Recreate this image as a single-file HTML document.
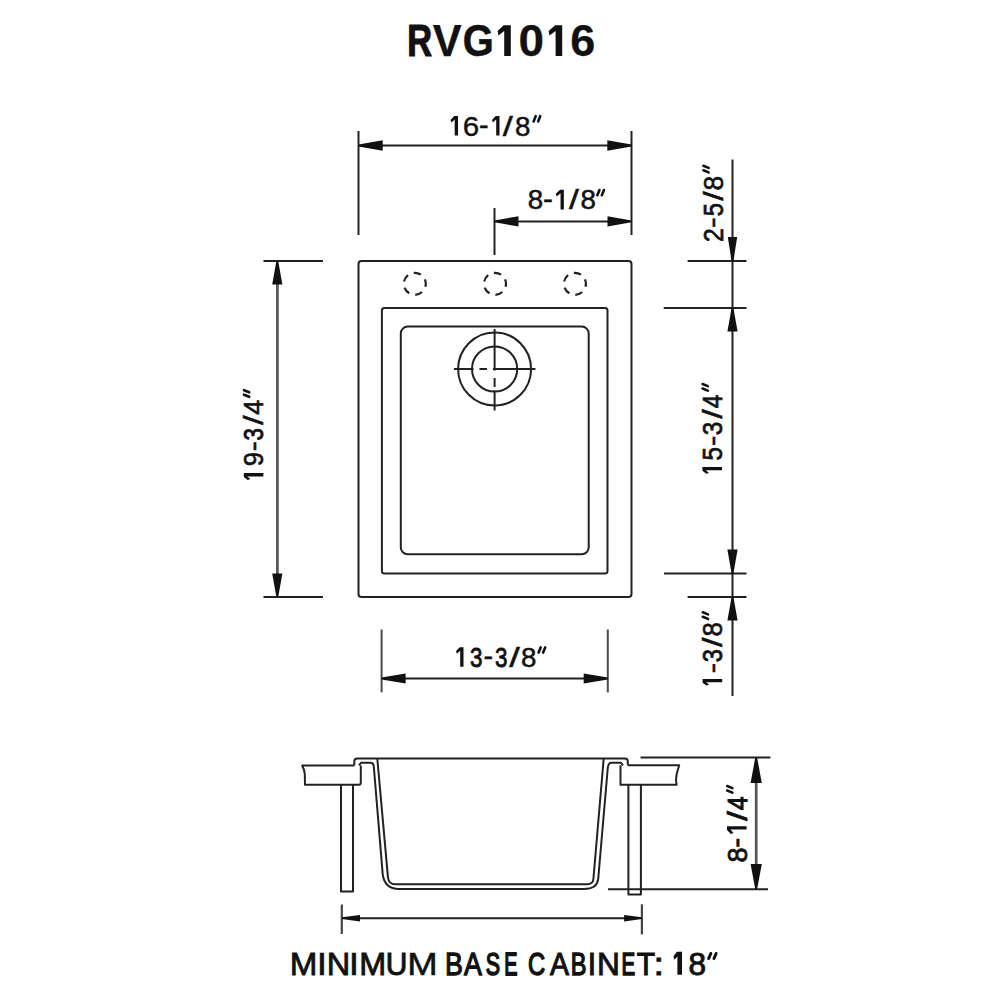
<!DOCTYPE html>
<html><head><meta charset="utf-8">
<style>
html,body{margin:0;padding:0;background:#fff;}
svg{display:block;}
text{font-family:"Liberation Sans",sans-serif;fill:#111;}
</style></head>
<body>
<svg width="1000" height="1000" viewBox="0 0 1000 1000">
<rect x="0" y="0" width="1000" height="1000" fill="#fff"/>
<g fill="none" stroke="#222" stroke-width="2" stroke-linejoin="round">
  <!-- 16-1/8 dimension -->
  <line x1="358.5" y1="131" x2="358.5" y2="235"/>
  <line x1="631.5" y1="131" x2="631.5" y2="235"/>
  <line x1="370" y1="145.5" x2="620" y2="145.5"/>
  <!-- 8-1/8 dimension -->
  <line x1="494.5" y1="208" x2="494.5" y2="255"/>
  <line x1="505" y1="221.4" x2="620" y2="221.4"/>

  <!-- plan view -->
  <rect x="358.5" y="261" width="273" height="336" rx="3"/>
  <rect x="381.9" y="308" width="225.6" height="265.5" rx="2.5"/>
  <rect x="400.8" y="326.6" width="187.9" height="227.7" rx="7"/>

  <!-- faucet holes -->
  <g stroke-dasharray="11 9" stroke-dashoffset="6.6" stroke-width="2.2">
    <circle cx="414.8" cy="283.8" r="11" pathLength="100"/>
    <circle cx="495" cy="283.8" r="11" pathLength="100"/>
    <circle cx="574.9" cy="283.8" r="11" pathLength="100"/>
  </g>

  <!-- drain -->
  <circle cx="494.6" cy="369" r="36.5"/>
  <circle cx="494.6" cy="369" r="22.6"/>
  <line x1="454" y1="369" x2="473.5" y2="369"/>
  <line x1="479.5" y1="369" x2="487" y2="369"/>
  <line x1="493" y1="369" x2="535.5" y2="369"/>
  <line x1="494.6" y1="329" x2="494.6" y2="370.5"/>
  <line x1="494.6" y1="378" x2="494.6" y2="387"/>
  <line x1="494.6" y1="390.5" x2="494.6" y2="410.5"/>

  <!-- left 19-3/4 dimension -->
  <line x1="263.5" y1="261" x2="323" y2="261"/>
  <line x1="263.5" y1="597" x2="323" y2="597"/>
  <line x1="277.4" y1="275" x2="277.4" y2="583" stroke="#5a5a5a" stroke-width="2.8"/>

  <!-- right dims -->
  <line x1="687.6" y1="261" x2="746.5" y2="261"/>
  <line x1="663.7" y1="308" x2="746.5" y2="308"/>
  <line x1="664" y1="573.6" x2="746.5" y2="573.6"/>
  <line x1="687.6" y1="597" x2="746.5" y2="597"/>
  <line x1="732.5" y1="159.6" x2="732.5" y2="696"/>

  <!-- 13-3/8 dimension -->
  <line x1="381.6" y1="629.5" x2="381.6" y2="692.4" stroke="#4a4a4a"/>
  <line x1="607.8" y1="629.5" x2="607.8" y2="692.4" stroke="#4a4a4a"/>
  <line x1="395" y1="678.5" x2="595" y2="678.5"/>

  <!-- side view -->
  <!-- left slab -->
  <path d="M354.3 765.5 H302.2 Q304.5 770 304.8 774.2 L305 784.8 H358.8 Q360.8 784.8 360.8 782.8 V765.5"/>
  <!-- right slab -->
  <path d="M627.8 765.3 H679.2 Q677.4 771 676.5 775 Q675.5 780 676.6 784.8 H620.5 V765.3"/>
  <!-- top lip outer -->
  <path d="M354.3 765.5 V761.5 Q354.3 758.5 357.3 758.5 H624.8 Q627.8 758.5 627.8 761.5 V765.3"/>
  <!-- rim + outer surface -->
  <path d="M359 765.3 L361 762.8 H370.5 Q373.5 762.8 373.8 766.5 L382.7 874.2 Q384.5 889 399 889 H584 Q597 889 598.2 879 L607.6 770 Q608 762.8 611 762.8 H621 L623 765.3"/>
  <!-- inner surface -->
  <path d="M377.3 758.5 L388 877.8 Q389 884.2 395 884.2 H587.4 Q592.8 884.2 593.4 879 L603.7 758.5"/>
  <!-- legs -->
  <path d="M341 784.8 V891.5 H353 V784.8"/>
  <path d="M628.4 785 V894.5 H640.9 V785"/>

  <!-- 8-1/4 dimension -->
  <line x1="640.5" y1="757.4" x2="770.4" y2="757.4"/>
  <line x1="608" y1="889.2" x2="768" y2="889.2"/>
  <line x1="756.2" y1="775" x2="756.2" y2="870" stroke="#555" stroke-width="2.7"/>

  <!-- bottom dim -->
  <line x1="341.8" y1="904.5" x2="341.8" y2="934" stroke="#444" stroke-width="2.2"/>
  <line x1="641.9" y1="904.3" x2="641.9" y2="934.4" stroke="#444" stroke-width="2.2"/>
  <line x1="355" y1="918.2" x2="630" y2="918.2"/>
</g>

<!-- arrowheads -->
<g fill="#111" stroke="none">
  <!-- 16-1/8 -->
  <polygon points="358.50,146.40 382.70,150.70 382.70,140.30 358.50,144.60"/>
  <polygon points="631.50,144.60 607.30,140.30 607.30,150.70 631.50,146.40"/>
  <!-- 8-1/8 -->
  <polygon points="494.50,222.30 518.50,226.60 518.50,216.20 494.50,220.50"/>
  <polygon points="631.50,220.50 607.50,216.20 607.50,226.60 631.50,222.30"/>
  <!-- 19-3/4 -->
  <polygon points="276.40,261.00 272.20,284.60 282.40,284.60 278.20,261.00"/>
  <polygon points="278.20,597.00 282.40,573.40 272.20,573.40 276.40,597.00"/>
  <!-- right -->
  <polygon points="733.40,261.00 737.20,237.00 727.80,237.00 731.60,261.00"/>
  <polygon points="731.60,308.00 727.40,331.50 737.60,331.50 733.40,308.00"/>
  <polygon points="733.40,573.60 737.60,549.60 727.40,549.60 731.60,573.60"/>
  <polygon points="731.60,597.00 727.40,620.50 737.60,620.50 733.40,597.00"/>
  <!-- 13-3/8 -->
  <polygon points="381.50,679.40 405.60,683.60 405.60,673.40 381.50,677.60"/>
  <polygon points="607.80,677.60 583.70,673.40 583.70,683.60 607.80,679.40"/>
  <!-- 8-1/4 -->
  <polygon points="755.30,757.40 750.60,782.90 761.80,782.90 757.10,757.40"/>
  <polygon points="757.10,889.20 761.80,864.00 750.60,864.00 755.30,889.20"/>
  <!-- bottom -->
  <polygon points="341.80,919.10 360.00,921.50 360.00,914.90 341.80,917.30"/>
  <polygon points="641.90,917.30 624.10,914.90 624.10,921.50 641.90,919.10"/>
</g>


<g id="labels">
<g transform="translate(0,56.0)"><text x="407.31" y="0" font-size="44.86" font-weight="bold" stroke="#111" stroke-width="1.21" textLength="24.79" lengthAdjust="spacingAndGlyphs">R</text><text x="432.83" y="0" font-size="44.86" font-weight="bold" stroke="#111" stroke-width="0.25" textLength="28.84" lengthAdjust="spacingAndGlyphs">V</text><text x="462.65" y="0" font-size="44.86" font-weight="bold" stroke="#111" stroke-width="0.57" textLength="31.04" lengthAdjust="spacingAndGlyphs">G</text><polygon fill="#111" points="510.80,0.00 510.80,-30.80 503.70,-30.80 497.60,-25.00 498.50,-20.50 504.20,-25.05 504.20,0.00"/><text x="518.51" y="0" font-size="44.86" font-weight="bold" stroke="#111" stroke-width="0.25" textLength="25.55" lengthAdjust="spacingAndGlyphs">0</text><polygon fill="#111" points="562.20,0.00 562.20,-30.80 555.10,-30.80 548.60,-25.00 549.50,-20.50 555.60,-25.05 555.60,0.00"/><text x="570.18" y="0" font-size="44.86" font-weight="bold" stroke="#111" stroke-width="0.25" textLength="25.02" lengthAdjust="spacingAndGlyphs">6</text></g>
<g transform="translate(0,135.6)"><polygon fill="#111" points="458.00,0.00 458.00,-19.60 454.20,-19.60 450.50,-15.70 451.40,-13.00 454.70,-16.15 454.70,0.00"/><text x="462.67" y="0" font-size="27.5" font-weight="normal" stroke="#111" stroke-width="0.34" textLength="16.46" lengthAdjust="spacingAndGlyphs">6</text><text x="478.98" y="-1.4" font-size="27.5" font-weight="normal" stroke="#111" stroke-width="0.50" textLength="9.55" lengthAdjust="spacingAndGlyphs">-</text><polygon fill="#111" points="499.50,0.00 499.50,-19.60 495.70,-19.60 492.00,-15.70 492.90,-13.00 496.20,-16.15 496.20,0.00"/><text x="502.75" y="0" font-size="27.5" font-weight="normal" stroke="#111" stroke-width="0.50" textLength="10.00" lengthAdjust="spacingAndGlyphs">/</text><text x="515.04" y="0" font-size="27.5" font-weight="normal" stroke="#111" stroke-width="0.48" textLength="15.43" lengthAdjust="spacingAndGlyphs">8</text><path d="M540.20 -19.40L538.10 -14.20M535.70 -19.40L533.60 -14.20" stroke="#111" stroke-width="2.6" stroke-linecap="round" fill="none"/></g>
<g transform="translate(0,209.4)"><text x="527.79" y="0" font-size="27.5" font-weight="normal" stroke="#111" stroke-width="0.48" textLength="15.43" lengthAdjust="spacingAndGlyphs">8</text><text x="542.94" y="-1.4" font-size="27.5" font-weight="normal" stroke="#111" stroke-width="0.50" textLength="9.82" lengthAdjust="spacingAndGlyphs">-</text><polygon fill="#111" points="563.85,0.00 563.85,-19.60 560.05,-19.60 555.75,-15.70 556.65,-13.00 560.55,-16.15 560.55,0.00"/><text x="569.05" y="0" font-size="27.5" font-weight="normal" stroke="#111" stroke-width="0.50" textLength="9.85" lengthAdjust="spacingAndGlyphs">/</text><text x="580.44" y="0" font-size="27.5" font-weight="normal" stroke="#111" stroke-width="0.48" textLength="15.43" lengthAdjust="spacingAndGlyphs">8</text><path d="M603.95 -19.40L601.85 -14.20M599.45 -19.40L597.35 -14.20" stroke="#111" stroke-width="2.6" stroke-linecap="round" fill="none"/></g>
<g transform="translate(0,666.8)"><polygon fill="#111" points="463.50,0.00 463.50,-19.60 459.70,-19.60 456.00,-15.70 456.90,-13.00 460.20,-16.15 460.20,0.00"/><text x="470.09" y="0" font-size="27.5" font-weight="normal" stroke="#111" stroke-width="0.88" textLength="12.46" lengthAdjust="spacingAndGlyphs">3</text><text x="483.48" y="-1.4" font-size="27.5" font-weight="normal" stroke="#111" stroke-width="0.50" textLength="9.55" lengthAdjust="spacingAndGlyphs">-</text><text x="495.09" y="0" font-size="27.5" font-weight="normal" stroke="#111" stroke-width="0.88" textLength="12.46" lengthAdjust="spacingAndGlyphs">3</text><text x="509.25" y="0" font-size="27.5" font-weight="normal" stroke="#111" stroke-width="0.50" textLength="10.50" lengthAdjust="spacingAndGlyphs">/</text><text x="521.04" y="0" font-size="27.5" font-weight="normal" stroke="#111" stroke-width="0.48" textLength="15.43" lengthAdjust="spacingAndGlyphs">8</text><path d="M545.20 -19.40L543.10 -14.20M540.70 -19.40L538.60 -14.20" stroke="#111" stroke-width="2.6" stroke-linecap="round" fill="none"/></g>
<g transform="translate(263.4,0) rotate(-90)"><polygon fill="#111" points="-473.10,0.00 -473.10,-19.60 -476.90,-19.60 -479.90,-15.70 -479.00,-13.00 -476.40,-16.15 -476.40,0.00"/><text x="-466.19" y="0" font-size="27.5" font-weight="normal" stroke="#111" stroke-width="0.64" textLength="14.29" lengthAdjust="spacingAndGlyphs">9</text><text x="-451.28" y="-1.4" font-size="27.5" font-weight="normal" stroke="#111" stroke-width="0.50" textLength="9.96" lengthAdjust="spacingAndGlyphs">-</text><text x="-440.59" y="0" font-size="27.5" font-weight="normal" stroke="#111" stroke-width="0.90" textLength="12.32" lengthAdjust="spacingAndGlyphs">3</text><text x="-424.95" y="0" font-size="27.5" font-weight="normal" stroke="#111" stroke-width="0.50" textLength="9.70" lengthAdjust="spacingAndGlyphs">/</text><text x="-414.74" y="0" font-size="27.5" font-weight="normal" stroke="#111" stroke-width="0.54" textLength="14.96" lengthAdjust="spacingAndGlyphs">4</text><path d="M-390.20 -19.40L-392.30 -14.20M-394.70 -19.40L-396.80 -14.20" stroke="#111" stroke-width="2.6" stroke-linecap="round" fill="none"/></g>
<g transform="translate(722.8,0) rotate(-90)"><text x="-242.07" y="0" font-size="27.5" font-weight="normal" stroke="#111" stroke-width="0.72" textLength="13.65" lengthAdjust="spacingAndGlyphs">2</text><text x="-227.73" y="-1.4" font-size="27.5" font-weight="normal" stroke="#111" stroke-width="0.50" textLength="10.37" lengthAdjust="spacingAndGlyphs">-</text><text x="-216.35" y="0" font-size="27.5" font-weight="normal" stroke="#111" stroke-width="0.79" textLength="13.15" lengthAdjust="spacingAndGlyphs">5</text><text x="-200.75" y="0" font-size="27.5" font-weight="normal" stroke="#111" stroke-width="0.50" textLength="9.40" lengthAdjust="spacingAndGlyphs">/</text><text x="-190.56" y="0" font-size="27.5" font-weight="normal" stroke="#111" stroke-width="0.58" textLength="14.72" lengthAdjust="spacingAndGlyphs">8</text><path d="M-165.80 -19.40L-167.90 -14.20M-170.30 -19.40L-172.40 -14.20" stroke="#111" stroke-width="2.6" stroke-linecap="round" fill="none"/></g>
<g transform="translate(722.0,0) rotate(-90)"><polygon fill="#111" points="-466.90,0.00 -466.90,-19.60 -470.70,-19.60 -473.80,-15.70 -472.90,-13.00 -470.20,-16.15 -470.20,0.00"/><text x="-460.59" y="0" font-size="27.5" font-weight="normal" stroke="#111" stroke-width="0.75" textLength="13.43" lengthAdjust="spacingAndGlyphs">5</text><text x="-446.05" y="-1.4" font-size="27.5" font-weight="normal" stroke="#111" stroke-width="0.50" textLength="10.50" lengthAdjust="spacingAndGlyphs">-</text><text x="-435.36" y="0" font-size="27.5" font-weight="normal" stroke="#111" stroke-width="0.73" textLength="13.57" lengthAdjust="spacingAndGlyphs">3</text><text x="-418.75" y="0" font-size="27.5" font-weight="normal" stroke="#111" stroke-width="0.50" textLength="9.50" lengthAdjust="spacingAndGlyphs">/</text><text x="-408.19" y="0" font-size="27.5" font-weight="normal" stroke="#111" stroke-width="0.74" textLength="13.54" lengthAdjust="spacingAndGlyphs">4</text><path d="M-384.05 -19.40L-386.15 -14.20M-388.55 -19.40L-390.65 -14.20" stroke="#111" stroke-width="2.6" stroke-linecap="round" fill="none"/></g>
<g transform="translate(722.2,0) rotate(-90)"><polygon fill="#111" points="-679.00,0.00 -679.00,-19.60 -682.80,-19.60 -685.50,-15.70 -684.60,-13.00 -682.30,-16.15 -682.30,0.00"/><text x="-673.37" y="-1.4" font-size="27.5" font-weight="normal" stroke="#111" stroke-width="0.50" textLength="10.23" lengthAdjust="spacingAndGlyphs">-</text><text x="-662.26" y="0" font-size="27.5" font-weight="normal" stroke="#111" stroke-width="0.79" textLength="13.15" lengthAdjust="spacingAndGlyphs">3</text><text x="-647.00" y="0" font-size="27.5" font-weight="normal" stroke="#111" stroke-width="0.50" textLength="9.50" lengthAdjust="spacingAndGlyphs">/</text><text x="-636.56" y="0" font-size="27.5" font-weight="normal" stroke="#111" stroke-width="0.62" textLength="14.37" lengthAdjust="spacingAndGlyphs">8</text><path d="M-612.30 -19.40L-614.40 -14.20M-616.80 -19.40L-618.90 -14.20" stroke="#111" stroke-width="2.6" stroke-linecap="round" fill="none"/></g>
<g transform="translate(746.6,0) rotate(-90)"><text x="-862.55" y="0" font-size="27.5" font-weight="normal" stroke="#111" stroke-width="0.84" textLength="15.01" lengthAdjust="spacingAndGlyphs">8</text><text x="-847.49" y="-1.4" font-size="27.5" font-weight="normal" stroke="#111" stroke-width="0.80" textLength="9.68" lengthAdjust="spacingAndGlyphs">-</text><polygon fill="#111" points="-826.20,0.00 -826.20,-19.60 -830.00,-19.60 -833.90,-15.70 -833.00,-13.00 -829.50,-16.15 -829.50,0.00"/><text x="-820.80" y="0" font-size="27.5" font-weight="normal" stroke="#111" stroke-width="0.80" textLength="9.50" lengthAdjust="spacingAndGlyphs">/</text><text x="-810.04" y="0" font-size="27.5" font-weight="normal" stroke="#111" stroke-width="1.04" textLength="13.54" lengthAdjust="spacingAndGlyphs">4</text><path d="M-786.00 -19.40L-788.10 -14.20M-790.50 -19.40L-792.60 -14.20" stroke="#111" stroke-width="2.6" stroke-linecap="round" fill="none"/></g>
<g transform="translate(0,974.8)"><text x="289.66" y="0" font-size="31.6" font-weight="normal" stroke="#111" stroke-width="0.78" textLength="27.67" lengthAdjust="spacingAndGlyphs">M</text><text x="316.84" y="0" font-size="31.6" font-weight="normal" stroke="#111" stroke-width="0.54" textLength="10.31" lengthAdjust="spacingAndGlyphs">I</text><text x="326.75" y="0" font-size="31.6" font-weight="normal" stroke="#111" stroke-width="0.83" textLength="23.49" lengthAdjust="spacingAndGlyphs">N</text><text x="348.84" y="0" font-size="31.6" font-weight="normal" stroke="#111" stroke-width="0.54" textLength="10.31" lengthAdjust="spacingAndGlyphs">I</text><text x="359.27" y="0" font-size="31.6" font-weight="normal" stroke="#111" stroke-width="0.84" textLength="26.97" lengthAdjust="spacingAndGlyphs">M</text><text x="385.71" y="0" font-size="31.6" font-weight="normal" stroke="#111" stroke-width="1.03" textLength="21.58" lengthAdjust="spacingAndGlyphs">U</text><text x="407.26" y="0" font-size="31.6" font-weight="normal" stroke="#111" stroke-width="0.53" textLength="30.47" lengthAdjust="spacingAndGlyphs">M</text><text x="444.94" y="0" font-size="31.6" font-weight="normal" stroke="#111" stroke-width="1.26" textLength="17.84" lengthAdjust="spacingAndGlyphs">B</text><text x="464.08" y="0" font-size="31.6" font-weight="normal" stroke="#111" stroke-width="1.26" textLength="17.84" lengthAdjust="spacingAndGlyphs">A</text><text x="485.86" y="0" font-size="31.6" font-weight="normal" stroke="#111" stroke-width="1.66" textLength="14.30" lengthAdjust="spacingAndGlyphs">S</text><text x="504.27" y="0" font-size="31.6" font-weight="normal" stroke="#111" stroke-width="1.78" textLength="13.19" lengthAdjust="spacingAndGlyphs">E</text><text x="528.04" y="0" font-size="31.6" font-weight="normal" stroke="#111" stroke-width="1.49" textLength="17.12" lengthAdjust="spacingAndGlyphs">C</text><text x="550.01" y="0" font-size="31.6" font-weight="normal" stroke="#111" stroke-width="1.13" textLength="18.98" lengthAdjust="spacingAndGlyphs">A</text><text x="570.83" y="0" font-size="31.6" font-weight="normal" stroke="#111" stroke-width="1.51" textLength="15.66" lengthAdjust="spacingAndGlyphs">B</text><text x="587.75" y="0" font-size="31.6" font-weight="normal" stroke="#111" stroke-width="1.01" textLength="8.31" lengthAdjust="spacingAndGlyphs">I</text><text x="597.05" y="0" font-size="31.6" font-weight="normal" stroke="#111" stroke-width="0.89" textLength="22.89" lengthAdjust="spacingAndGlyphs">N</text><text x="621.39" y="0" font-size="31.6" font-weight="normal" stroke="#111" stroke-width="1.73" textLength="13.62" lengthAdjust="spacingAndGlyphs">E</text><text x="636.83" y="0" font-size="31.6" font-weight="normal" stroke="#111" stroke-width="1.02" textLength="18.35" lengthAdjust="spacingAndGlyphs">T</text><text x="653.50" y="0" font-size="31.6" font-weight="normal" stroke="#111" stroke-width="0.90" textLength="10.50" lengthAdjust="spacingAndGlyphs">:</text><polygon fill="#111" points="682.00,0.00 682.00,-23.00 676.90,-23.00 673.50,-18.60 674.40,-15.00 677.40,-18.40 677.40,0.00"/><text x="688.38" y="0" font-size="31.6" font-weight="normal" stroke="#111" stroke-width="0.91" textLength="17.54" lengthAdjust="spacingAndGlyphs">8</text><path d="M716.10 -21.30L714.00 -16.30M710.80 -21.30L708.70 -16.30" stroke="#111" stroke-width="3.0" stroke-linecap="round" fill="none"/></g>
</g>
</svg>
</body></html>
